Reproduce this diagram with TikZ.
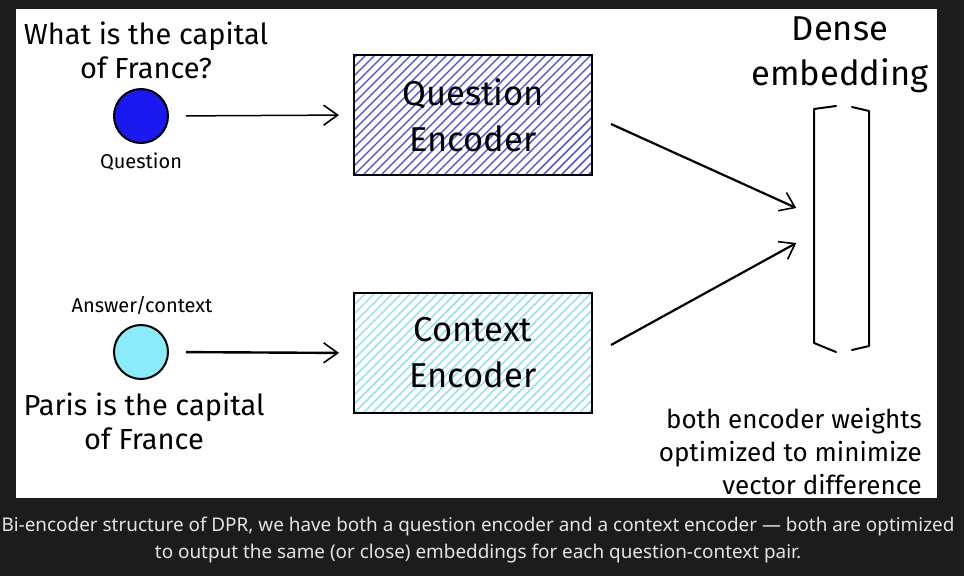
\documentclass[tikz,border=0pt]{standalone}
\usepackage{fontspec}
\usetikzlibrary{arrows.meta}
\newfontfamily\hwfont{Fira Sans}
\newfontfamily\capfont{Noto Sans}
\definecolor{bgdark}{RGB}{28,28,28}
\definecolor{capgray}{RGB}{228,228,228}
\definecolor{qblue}{RGB}{26,26,240}
\definecolor{cblue}{RGB}{138,236,250}
\definecolor{qhatch}{RGB}{70,70,225}
\definecolor{chatch}{RGB}{140,224,238}
\tikzset{
  hw/.style={font=\hwfont, align=center, inner sep=0pt},
  dot/.style={circle, draw=black, line width=2pt, minimum size=54pt, inner sep=0pt},
  arr/.style={-{Straight Barb[length=14pt,width=20pt,line width=1.6pt]}, line width=#1},
  arr/.default=2.2pt,
  encbox/.style={draw=black, line width=2pt, minimum width=238pt, minimum height=120pt,
    align=center, inner sep=0pt, font=\hwfont\fontsize{34.5}{46}\selectfont,
    path picture={
      \foreach \k in {-30,...,30}
        \draw[#1, line width=1.4pt]
          ([xshift=\k*9pt]path picture bounding box.south west) -- ++(160pt,160pt);
    }},
  brk/.style={line width=2pt, line cap=round, line join=round}
}
\begin{document}
\begin{tikzpicture}[x=1pt,y=-1pt]
\fill[bgdark] (0,0) rectangle (964,576);
\fill[white] (16,9) rectangle (937,498);

% left texts
\node[hw, font=\hwfont\fontsize{29}{34}\selectfont] (qtext) at (146,50) {What is the capital\\of France?};
\node[dot, fill=qblue] (qdot) at (141,116) {};
\node[hw, font=\hwfont\fontsize{20}{22}\selectfont] (qlab) at (141,162) {Question};

\node[hw, font=\hwfont\fontsize{20}{22}\selectfont] (clab) at (142,305) {Answer/context};
\node[dot, fill=cblue] (cdot) at (141,352) {};
\node[hw, font=\hwfont\fontsize{29}{34}\selectfont] (ctext) at (144,421) {Paris is the capital\\of France};

% encoders
\node[encbox=qhatch] (qenc) at (473,115) {Question\\Encoder};
\node[encbox=chatch] (cenc) at (473,353) {Context\\Encoder};

% embedding
\node[minimum width=55pt, minimum height=244pt, inner sep=0pt] (emb) at (841,228) {};
\draw[brk] (836,106) -- (814,109) -- (814,343) -- (836,352);
\draw[brk] (852,107) -- (869,111) -- (869,346) -- (852,350);
\node[hw, font=\hwfont\fontsize{34.5}{45}\selectfont] (embtext) at (840,55) {Dense\\embedding};

% note
\node[hw, align=right, anchor=north east, font=\hwfont\fontsize{26}{33}\selectfont] (note) at (922,408) {both encoder weights\\optimized to minimize\\vector difference};

% connectors
\draw[arr=1.5pt, shorten <=17pt, shorten >=14pt] (qdot.east) -- (qenc.west);
\draw[arr=2.4pt, shorten <=17pt, shorten >=14pt] (cdot.east) -- (cenc.west);
\draw[arr] ([xshift=18pt,yshift=-9pt]qenc.east) -- ([xshift=-17pt,yshift=20pt]emb.west);
\draw[arr] ([xshift=18pt,yshift=8pt]cenc.east) -- ([xshift=-17pt,yshift=-15pt]emb.west);

% caption
\node[font=\capfont\fontsize{18.9}{27}\selectfont, text=capgray, align=center, inner sep=0pt] (cap) at (478,540)
  {Bi-encoder structure of DPR, we have both a question encoder and a context encoder — both are optimized\\to output the same (or close) embeddings for each question-context pair.};
\end{tikzpicture}
\end{document}
